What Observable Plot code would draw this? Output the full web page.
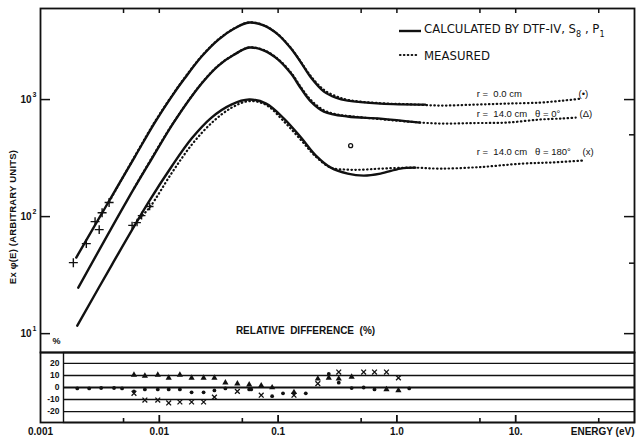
<!DOCTYPE html>
<html><head><meta charset="utf-8">
<script src="https://cdn.jsdelivr.net/npm/d3@7"></script>
<script src="https://cdn.jsdelivr.net/npm/@observablehq/plot@0.6"></script>
<style>
body{margin:0;background:#fff;}
#wrap{position:relative;width:636px;height:446px;background:#fff;overflow:hidden;font-family:"Liberation Sans",Arial,sans-serif;color:#111;}
#wrap > svg{position:absolute;left:0;}
.ov{position:absolute;white-space:nowrap;color:#111;}
</style></head><body><div id="wrap"></div>
<script>
// ---------- calculated curves (DTF-IV, S8, P1) ----------
const calcA_E = [0.0020, 0.0035, 0.00624, 0.00916, 0.0127, 0.0163, 0.0227, 0.0315, 0.0428, 0.0571, 0.0764, 0.100, 0.1285, 0.156, 0.189, 0.243, 0.306, 0.385, 0.728, 1.73];
const calcA_F = [44.7, 119, 326, 636, 1061, 1512, 2331, 3257, 4045, 4550, 4290, 3594, 2729, 2071, 1542, 1170, 1040, 980, 924, 906];
const calcB_E = [0.00208, 0.00535, 0.00866, 0.0132, 0.0227, 0.0315, 0.0428, 0.0571, 0.0764, 0.100, 0.1285, 0.156, 0.189, 0.243, 0.385, 0.728, 1.57];
const calcB_F = [24.7, 137, 313, 636, 1370, 1953, 2424, 2782, 2623, 2197, 1668, 1242, 961, 790, 716, 688, 636];
const calcC_E = [0.00204, 0.0040, 0.00817, 0.0127, 0.0187, 0.0275, 0.0404, 0.0571, 0.0793, 0.112, 0.156, 0.208, 0.278, 0.385, 0.525, 0.728, 1.07, 1.43];
const calcC_F = [11.7, 38.9, 134, 268, 464, 702, 906, 1000, 924, 688, 473, 332, 262, 233, 224, 233, 257, 262];

// ---------- measured ----------
const measA_E = [0.0038, 0.00624, 0.00916, 0.0127, 0.0163, 0.0227, 0.0315, 0.0428, 0.0571, 0.0764, 0.100, 0.1285, 0.156, 0.189, 0.243, 0.306, 0.385, 0.73, 1.2, 2.3, 4.5, 8.4, 15.9, 25, 36];
const measA_F = [135, 330, 645, 1070, 1530, 2350, 3280, 4060, 4560, 4300, 3610, 2750, 2090, 1580, 1210, 1070, 995, 930, 915, 889, 905, 924, 942, 980, 1020];
const measB_E = [0.0062, 0.00866, 0.0132, 0.0227, 0.0315, 0.0428, 0.0571, 0.0764, 0.100, 0.1285, 0.156, 0.189, 0.243, 0.306, 0.385, 0.73, 1.2, 2.3, 4.5, 8.4, 15.9, 25, 32];
const measB_F = [178, 318, 640, 1380, 1960, 2430, 2790, 2640, 2220, 1700, 1270, 990, 810, 750, 725, 680, 650, 624, 630, 636, 675, 690, 702];
const measC_E = [0.0065, 0.0083, 0.0127, 0.0187, 0.0275, 0.0404, 0.0571, 0.0793, 0.112, 0.156, 0.208, 0.278, 0.385, 0.525, 0.73, 1.37, 2.31, 5, 11.5, 20, 36.4];
const measC_F = [92, 120, 235, 410, 630, 850, 970, 900, 650, 450, 325, 262, 252, 252, 257, 262, 257, 265, 284, 290, 301];
// individual low-energy measured points (+)
const plusA_E = [0.00189, 0.00243, 0.00288, 0.00312, 0.0033, 0.00378];
const plusA_F = [40.4, 58.8, 90.6, 77.4, 108, 132];
const plusC_E = [0.0059, 0.0065, 0.0071, 0.0083];
const plusC_F = [84, 89, 102, 122];
const stray_E = [0.408];
const stray_F = [404];

// ---------- annotations ----------
const annE = [4.7, 4.7, 4.7];
const annF = [1125, 759, 359];
const annText = ["r =  0.0 cm", "r =  14.0 cm   θ = 0°", "r =  14.0 cm   θ = 180°"];
const symE = [33.8, 34.5, 36.5];
const symText = ["(•)", "(Δ)", "(x)"];

// ---------- relative difference (%) ----------
const circE = [0.00204, 0.00257, 0.00324, 0.00416, 0.00486, 0.00612, 0.00756, 0.00971, 0.012, 0.0149, 0.0187, 0.0236, 0.0291, 0.036, 0.0571, 0.0594, 0.0891, 0.110, 0.171, 0.267, 0.324, 0.416, 0.525, 0.648, 1.27];
const circD = [-0.8, -0.8, -0.4, -0.4, -0.8, -3.2, -1.6, -1.6, -1.6, -1.6, -4, -4, -2.4, -0.8, -1.6, -1.6, -7.2, -4.8, -4.8, 11.2, 4, -0.5, 0, -1.6, -0.8];
const triE = [0.00612, 0.00756, 0.00971, 0.012, 0.0149, 0.0187, 0.0236, 0.0291, 0.036, 0.0454, 0.0571, 0.0721, 0.0891, 0.136, 0.216, 0.267, 0.324, 0.416, 0.817, 1.03];
const triD = [10.4, 9.6, 10.4, 8, 10.4, 8, 8, 8, 4, 3.2, 2.4, 1.6, 0, -4, 7.2, 8, 7.2, 8.8, -1.6, -2.4];
const crossE = [0.00612, 0.00756, 0.00971, 0.012, 0.0149, 0.0187, 0.0236, 0.0291, 0.0454, 0.0721, 0.136, 0.216, 0.324, 0.525, 0.648, 0.817, 1.03];
const crossD = [-4.8, -10.4, -10.4, -12.8, -12, -12, -12, -8, -3.2, -6.4, -6.4, 3.2, 12.8, 12.8, 12.8, 12.8, 8];

// ---------- ticks ----------
const xMajor = [0.01, 0.1, 1, 10];
const xMinor = [0.005, 0.05, 0.5, 5, 50];
const xLabelVals = [0.001, 0.01, 0.1, 1, 10];
const xLabels = ["0.001", "0.01", "0.1", "1.0", "10."];
const yMajor = [10, 100, 1000];
const yExp = ["1", "2", "3"];
const yRightMajor = [10, 100, 1000];
const yRightMinor = [40, 500];
const diffLevels = [20, 10, 0, -10, -20];
const diffLabels = ["20", "10", "0", "-10", "-20"];

const tbl = (E, V) => E.map((e, i) => ({E: e, V: V[i]}));
const ink = "#111";
const FONT = "Liberation Sans, Arial, sans-serif";
const calcStyle = {x: "E", y: "V", curve: "catmull-rom", stroke: ink, strokeWidth: 2.4};
const measStyle = {x: "E", y: "V", curve: "catmull-rom", stroke: ink, strokeWidth: 2.2, strokeDasharray: "0.5,3.4", strokeLinecap: "round"};

const upper = Plot.plot({
  width: 636, height: 360, marginLeft: 40, marginRight: 2, marginTop: 8, marginBottom: 8,
  style: {background: "transparent", fontFamily: FONT, color: ink},
  x: {type: "log", domain: [0.001, 100], axis: null},
  y: {type: "log", domain: [6.9, 6000], axis: null},
  marks: [
    Plot.frame({stroke: ink, strokeWidth: 1.8}),
    Plot.ruleX(xMajor.concat(xMinor), {stroke: ink, strokeWidth: 1.5, insetBottom: 339}),
    Plot.ruleY(yMajor, {stroke: ink, strokeWidth: 1.5, insetRight: 584}),
    Plot.ruleY(yRightMajor, {stroke: ink, strokeWidth: 1.5, insetLeft: 584}),
    Plot.ruleY(yRightMinor, {stroke: ink, strokeWidth: 1.5, insetLeft: 589}),
    Plot.text(yMajor, {y: Plot.identity, frameAnchor: "left", dx: -9, textAnchor: "end", text: () => "10", fontSize: 10, fontWeight: "bold", fill: ink}),
    Plot.text(yMajor, {y: Plot.identity, frameAnchor: "left", dx: -8, dy: -5, textAnchor: "start", text: yExp, fontSize: 7, fontWeight: "bold", fill: ink}),
    // calculated
    Plot.line(tbl(calcA_E, calcA_F), calcStyle),
    Plot.line(tbl(calcB_E, calcB_F), calcStyle),
    Plot.line(tbl(calcC_E, calcC_F), calcStyle),
    // measured
    Plot.line(tbl(measA_E, measA_F), measStyle),
    Plot.line(tbl(measB_E, measB_F), measStyle),
    Plot.line(tbl(measC_E, measC_F), measStyle),
    Plot.dot(tbl(plusA_E, plusA_F), {x: "E", y: "V", symbol: "plus", r: 3, stroke: ink, strokeWidth: 1.4}),
    Plot.dot(tbl(plusC_E, plusC_F), {x: "E", y: "V", symbol: "plus", r: 2.6, stroke: ink, strokeWidth: 1.3}),
    Plot.dot(tbl(stray_E, stray_F), {x: "E", y: "V", r: 2, fill: "white", stroke: ink, strokeWidth: 1.3}),
    // annotations
    Plot.text(annText, {x: annE, y: annF, text: Plot.identity, textAnchor: "start", fontSize: 9.5, fill: ink}),
    Plot.text(symText, {x: symE, y: annF, text: Plot.identity, textAnchor: "start", fontSize: 9.5, fill: ink}),
    Plot.text(["RELATIVE  DIFFERENCE  (%)"], {frameAnchor: "bottom", dx: -32, dy: -19, text: Plot.identity, fontSize: 10, fontWeight: "bold", fill: ink, style: "letter-spacing:0.6px"}),
    Plot.text(["%"], {frameAnchor: "bottom-left", dx: 12, dy: -9, text: Plot.identity, fontSize: 9, fontWeight: "bold", fill: ink})
  ]
});

const lower = Plot.plot({
  width: 636, height: 106, marginLeft: 40, marginRight: 2, marginTop: 12, marginBottom: 24,
  style: {background: "transparent", fontFamily: FONT, color: ink},
  x: {type: "log", domain: [0.001, 100], axis: null},
  y: {domain: [-29, 29], axis: null},
  marks: [
    Plot.frame({stroke: ink, strokeWidth: 1.8}),
    Plot.frame({stroke: ink, strokeWidth: 1.4, insetLeft: 23}),
    Plot.ruleY(diffLevels, {y: Plot.identity, insetLeft: 23, stroke: ink, strokeWidth: d => d === 0 ? 2 : 1.4}),
    Plot.text(diffLevels, {y: Plot.identity, frameAnchor: "left", dx: 19, textAnchor: "end", text: diffLabels, fontSize: 8.5, fontWeight: "bold", fill: ink}),
    Plot.ruleX(xMajor, {stroke: ink, strokeWidth: 1.8, insetTop: 63}),
    Plot.ruleX(xMinor, {stroke: ink, strokeWidth: 1.6, insetTop: 66}),
    Plot.text(xLabelVals, {x: Plot.identity, frameAnchor: "bottom", dy: 12, text: xLabels, fontSize: 10, fontWeight: "bold", fill: ink}),
    Plot.text(["ENERGY (eV)"], {frameAnchor: "bottom-right", dy: 12, textAnchor: "end", text: Plot.identity, fontSize: 10, fontWeight: "bold", fill: ink}),
    Plot.dot(tbl(circE, circD), {x: "E", y: "V", r: 1.9, fill: ink}),
    Plot.dot(tbl(triE, triD), {x: "E", y: "V", symbol: "triangle", r: 2.3, fill: ink}),
    Plot.dot(tbl(crossE, crossD), {x: "E", y: "V", symbol: "times", r: 2.3, stroke: ink, strokeWidth: 1.3})
  ]
});

const wrap = document.getElementById("wrap");
upper.style.top = "0px";
lower.style.top = "340px";
wrap.appendChild(upper);
wrap.appendChild(lower);

// axis title (rotated)
const yt = document.createElement("div");
yt.className = "ov";
yt.style.cssText += "left:12px;top:217px;font-size:9.5px;font-weight:bold;letter-spacing:0.2px;transform:translate(-50%,-50%) rotate(-90deg);";
yt.textContent = "Ex φ(E)  (ARBITRARY UNITS)";
wrap.appendChild(yt);

// legend
const lg = document.createElement("div");
lg.className = "ov";
lg.style.cssText += "left:398px;top:23px;font-family:'Liberation Sans Narrow','DejaVu Sans Condensed',Arial,sans-serif;font-size:13px;line-height:13px;";
lg.innerHTML =
  '<div style="display:flex;align-items:center;height:16px"><svg width="24" height="6"><line x1="1" y1="3" x2="23" y2="3" stroke="#111" stroke-width="2.4"/></svg><span style="margin-left:2px">CALCULATED BY DTF-IV, S<sub style="font-size:9px">8</sub> , P<sub style="font-size:9px">1</sub></span></div>' +
  '<div style="display:flex;align-items:center;height:16px;margin-top:8px"><svg width="24" height="6"><line x1="2" y1="3" x2="20" y2="3" stroke="#111" stroke-width="2.2" stroke-dasharray="0.5,3.4" stroke-linecap="round"/></svg><span style="margin-left:2px">MEASURED</span></div>';
wrap.appendChild(lg);
</script></body></html>
